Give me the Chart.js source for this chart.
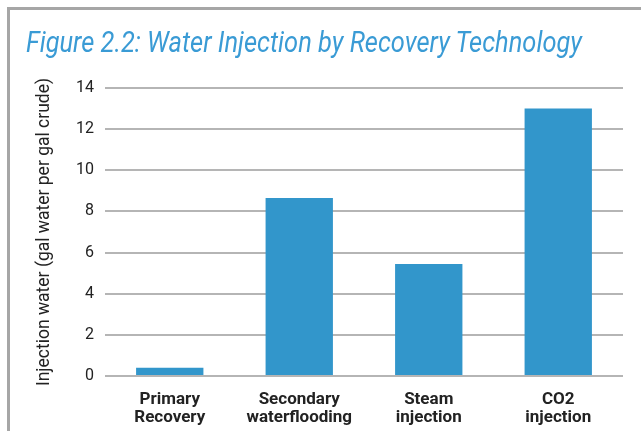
<!DOCTYPE html>
<html>
<head>
<meta charset="utf-8">
<script src="https://cdn.jsdelivr.net/npm/chart.js@4"></script>
<style>
  html, body { margin: 0; padding: 0; background: #fff; }
  #wrap { position: relative; width: 641px; height: 431px; overflow: hidden; }
  #frame { position: absolute; left: 7px; top: 7px; width: 700px; height: 500px;
           border-top: 3px solid #a6a6a6; border-left: 3px solid #a6a6a6; }
  #title { position: absolute; left: 26px; top: 24px; margin: 0; white-space: nowrap;
           font-family: Roboto, sans-serif; font-style: italic; font-weight: 400;
           font-size: 30px; color: #3a9bd5; transform-origin: 0 0; }
  #chart { position: absolute; left: 0; top: 0; }
</style>
</head>
<body>
<div id="wrap">
  <div id="frame"></div>
  <canvas id="chart" width="641" height="431"></canvas>
  <h1 id="title">Figure 2.2: Water Injection by Recovery Technology</h1>
</div>
<script>
// chart data
const categories = [['Primary', 'Recovery'], ['Secondary', 'waterflooding'], ['Steam', 'injection'], ['CO2', 'injection']];
const injectionWater = [0.4, 8.65, 5.45, 13.0];
const yTicks = [0, 2, 4, 6, 8, 10, 12, 14];

document.addEventListener('DOMContentLoaded', () => {
    // squeeze the title to the width it has in the figure
    const title = document.getElementById('title');
    const w = title.getBoundingClientRect().width;
    title.style.transform = 'scaleX(' + (556 / w) + ')';

    const ctx = document.getElementById('chart');
    new Chart(ctx, {
        type: 'bar',
        data: {
            labels: categories,
            datasets: [{
                label: 'Injection water',
                data: injectionWater,
                backgroundColor: '#3296cb',
                borderWidth: 0,
                categoryPercentage: 1,
                barPercentage: 0.52
            }]
        },
        options: {
            responsive: false,
            animation: false,
            layout: { padding: { left: 24, right: 18, top: 88, bottom: 0 } },
            plugins: {
                legend: { display: false },
                tooltip: { enabled: false }
            },
            scales: {
                x: {
                    grid: { display: false },
                    border: { display: false },
                    ticks: {
                        color: '#222',
                        padding: 7,
                        maxRotation: 0,
                        font: { family: 'Roboto', size: 17, weight: 'bold', lineHeight: 1.05 }
                    },
                    afterFit: (axis) => { axis.height = 55; }
                },
                y: {
                    min: 0,
                    max: 14,
                    afterBuildTicks: (axis) => { axis.ticks = yTicks.map(v => ({ value: v })); },
                    grid: { color: '#b5b5b5', lineWidth: 2, drawTicks: false },
                    border: { display: false },
                    ticks: {
                        color: '#222',
                        padding: 11,
                        font: { family: 'Roboto', size: 16 }
                    },
                    title: {
                        display: true,
                        text: 'Injection water (gal water per gal crude)',
                        color: '#222',
                        padding: { top: 10, bottom: 0 },
                        font: { family: 'Roboto', size: 17.5 }
                    },
                    afterFit: (axis) => { axis.width = 105 - 24; }
                }
            }
        }
    });
});
</script>
</body>
</html>
